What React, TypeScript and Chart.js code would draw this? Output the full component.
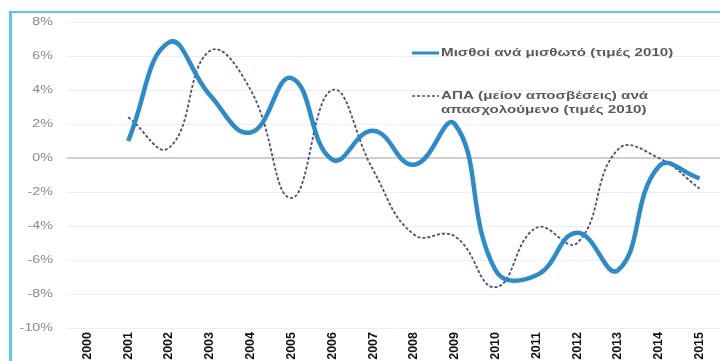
import React, { useEffect, useRef } from "react";
import { Chart, registerables } from "chart.js";

Chart.register(...registerables);

const years = ["2000","2001","2002","2003","2004","2005","2006","2007","2008","2009","2010","2011","2012","2013","2014","2015"];
const wagesPerEmployee = [null, 1.0, 6.8, 3.7, 1.5, 4.7, -0.1, 1.6, -0.4, 2.0, -6.6, -6.9, -4.4, -6.6, -0.5, -1.2];
const nnpPerEmployed = [null, 2.4, 0.6, 6.3, 4.0, -2.35, 4.0, -0.7, -4.5, -4.6, -7.6, -4.1, -5.0, 0.5, 0.0, -1.8];
const legendLabels = ["Μισθοί ανά μισθωτό (τιμές 2010)", "ΑΠΑ (μείον αποσβέσεις) ανά", "απασχολούμενο (τιμές 2010)"];
const yTicks = [8, 6, 4, 2, 0, -2, -4, -6, -8, -10];

const FONT = "'Liberation Sans', Arial, sans-serif";
const BLUE = "#2b8ccc";
const NAVY = "#4a4a8c";

export default function App() {
  const ref = useRef<HTMLCanvasElement | null>(null);
  useEffect(() => {
    document.body.style.margin = "0";
    const textPlugin = {
      id: "customText",
      afterDraw(chart: any) {
        const ctx = chart.ctx;
        const ys = chart.scales.y;
        ctx.save();
        // y tick labels (horizontally stretched like the reference)
        const tS = 1.3;
        ctx.fillStyle = "#8a8a8a";
        ctx.font = `11px ${FONT}`;
        ctx.textBaseline = "middle";
        ctx.textAlign = "right";
        ctx.save();
        ctx.scale(tS, 1);
        yTicks.forEach((v) => {
          ctx.fillText(`${v}%`, 53 / tS, ys.getPixelForValue(v));
        });
        ctx.restore();
        // legend
        ctx.lineCap = "butt";
        ctx.strokeStyle = BLUE;
        ctx.lineWidth = 3;
        ctx.beginPath();
        ctx.moveTo(412, 53);
        ctx.lineTo(439, 53);
        ctx.stroke();
        ctx.strokeStyle = NAVY;
        ctx.lineWidth = 1.5;
        ctx.setLineDash([3, 2]);
        ctx.beginPath();
        ctx.moveTo(412, 96);
        ctx.lineTo(439, 96);
        ctx.stroke();
        ctx.setLineDash([]);
        ctx.fillStyle = "#5a5a5a";
        ctx.font = `bold 11px ${FONT}`;
        ctx.textAlign = "left";
        const lS = 1.38;
        ctx.scale(lS, 1);
        const lx = 441 / lS;
        ctx.fillText(legendLabels[0], lx, 53);
        ctx.fillText(legendLabels[1], lx, 96);
        ctx.fillText(legendLabels[2], lx, 110);
        ctx.restore();
      },
    };
    const chart = new Chart(ref.current!, {
      type: "line",
      data: {
        labels: years,
        datasets: [
          {
            label: legendLabels[0],
            data: wagesPerEmployee,
            borderColor: BLUE,
            borderWidth: 4.5,
            pointRadius: 0,
            tension: 0.45,
            fill: false,
          },
          {
            label: legendLabels[1] + " " + legendLabels[2],
            data: nnpPerEmployed,
            borderColor: NAVY,
            borderWidth: 1.8,
            borderDash: [3, 2],
            pointRadius: 0,
            tension: 0.45,
            fill: false,
          },
        ],
      },
      options: {
        animation: false,
        responsive: false,
        layout: { padding: { top: 22, right: 0, left: 0, bottom: 0 } },
        plugins: { legend: { display: false }, tooltip: { enabled: false } },
        scales: {
          x: {
            offset: true,
            grid: { display: false, drawTicks: false },
            border: { display: false },
            ticks: {
              autoSkip: false,
              maxRotation: 90,
              minRotation: 90,
              padding: 4,
              color: "#111",
              font: { family: FONT, size: 12.5, weight: "bold" },
            },
            afterFit(scale: any) {
              scale.height = 33;
            },
          },
          y: {
            min: -10,
            max: 8,
            grid: {
              drawTicks: false,
              color: (c: any) => (c.tick && c.tick.value === 0 ? "#cfcfcf" : "#eeeeee"),
              lineWidth: (c: any) => (c.tick && c.tick.value === 0 ? 2 : 1),
            },
            border: { display: false },
            ticks: {
              stepSize: 2,
              padding: 14,
              color: "rgba(0,0,0,0)",
              font: { family: FONT, size: 11 },
              callback: (v: any) => `${v}%`,
            },
            afterFit(scale: any) {
              scale.width = 67;
            },
          },
        },
      },
      plugins: [textPlugin],
    });
    return () => chart.destroy();
  }, []);
  return (
    <div style={{ position: "relative", width: 720, height: 361, overflow: "hidden", background: "#fff" }}>
      <canvas ref={ref} width={720} height={361} style={{ display: "block" }} />
      <div style={{ position: "absolute", left: 9, top: 11, width: 800, height: 400, borderLeft: "3px solid #5cc6f2", borderTop: "2px solid #5cc6f2", pointerEvents: "none" }} />
    </div>
  );
}
